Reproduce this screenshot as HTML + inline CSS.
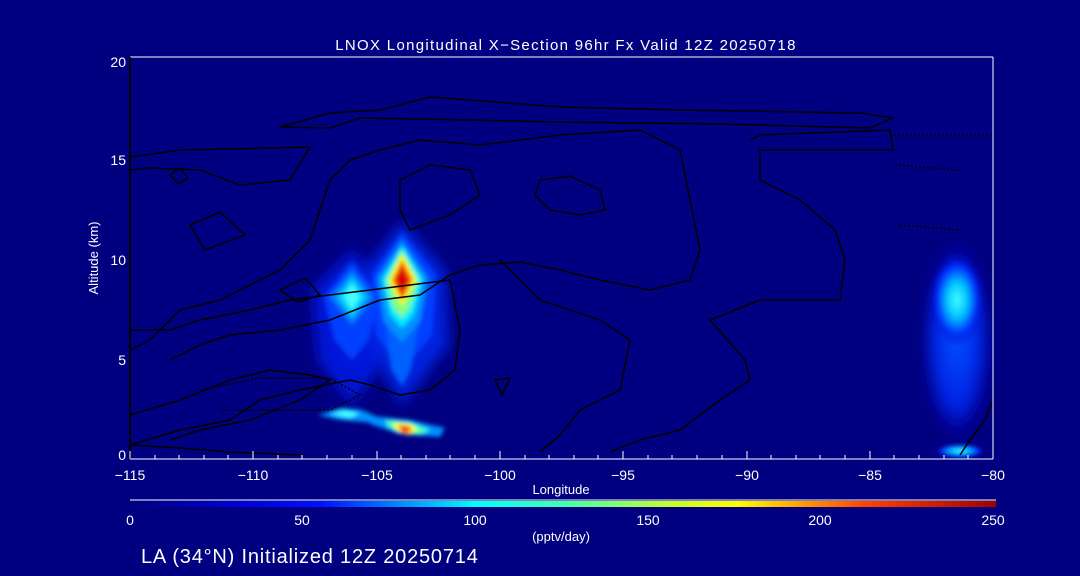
<!DOCTYPE html>
<html><head><style>
body{margin:0;background:#000080;}
svg{display:block;font-family:"Liberation Sans","DejaVu Sans",sans-serif;}
</style></head><body>
<svg width="1080" height="576" viewBox="0 0 1080 576">
<defs>
<filter id="b" x="-50%" y="-50%" width="200%" height="200%"><feGaussianBlur stdDeviation="6"/></filter>
<filter id="s" x="-50%" y="-50%" width="200%" height="200%"><feGaussianBlur stdDeviation="2"/></filter>
<linearGradient id="cb" x1="0" x2="1">
<stop offset="0" stop-color="#000080"/><stop offset="0.12" stop-color="#0000d0"/><stop offset="0.22" stop-color="#0010ff"/><stop offset="0.4" stop-color="#00ffff"/><stop offset="0.5" stop-color="#40ffb0"/><stop offset="0.62" stop-color="#c0ff30"/><stop offset="0.7" stop-color="#ffff00"/><stop offset="0.85" stop-color="#ff4000"/><stop offset="1" stop-color="#a00000"/>
</linearGradient>
<radialGradient id="hot"><stop offset="0" stop-color="#d00000"/><stop offset="0.2" stop-color="#ff5000"/><stop offset="0.35" stop-color="#ffff00"/><stop offset="0.55" stop-color="#00ffff"/><stop offset="0.8" stop-color="#0040ff"/><stop offset="1" stop-color="#0000c0" stop-opacity="0"/></radialGradient>
<radialGradient id="cy"><stop offset="0" stop-color="#40ffff"/><stop offset="0.4" stop-color="#00c0ff"/><stop offset="0.75" stop-color="#0030ff"/><stop offset="1" stop-color="#0000c0" stop-opacity="0"/></radialGradient>
<radialGradient id="bl"><stop offset="0" stop-color="#0050ff"/><stop offset="0.7" stop-color="#0020e0"/><stop offset="1" stop-color="#0000c0" stop-opacity="0"/></radialGradient>
</defs>
<!-- left blob -->
<g filter="url(#s)">
<polygon points="352,250 390,290 385,360 352,405 318,360 312,290" fill="#0018d8" filter="url(#b)"/>
<polygon points="402,222 445,270 448,345 402,405 368,345 364,270" fill="#0020e0" filter="url(#b)"/>
<polygon points="352,262 380,297 368,340 352,360 335,340 324,297" fill="#0040ff"/>
<polygon points="352,270 374,297 352,325 330,297" fill="#0080ff"/>
<polygon points="352,277 367,297 352,318 337,297" fill="#00d0ff"/>
<polygon points="352,284 360,297 352,310 344,297" fill="#40ffff"/>
<polygon points="402,232 436,275 432,335 402,370 376,335 372,275" fill="#0040ff"/>
<polygon points="402,300 418,330 410,370 402,385 392,370 386,330" fill="#0060ff"/>
<polygon points="402,240 428,278 420,322 402,342 384,322 377,278" fill="#0090ff"/>
<polygon points="402,246 423,279 414,315 402,328 390,315 382,279" fill="#00e8ff"/>
<polygon points="402,250 419,280 410,308 402,318 393,308 386,280" fill="#80ff80"/>
<polygon points="402,254 416,280 402,306 389,280" fill="#ffff00"/>
<polygon points="402,259 413,280 402,301 392,280" fill="#ff7000"/>
<polygon points="402,266 409,280 402,294 395,280" fill="#d80000"/>
<!-- bottom streaks -->
<polygon points="318,415 340,408 362,410 380,418 375,423 340,420" fill="#0090ff"/>
<polygon points="330,414 345,410 360,413 350,418" fill="#40ffff"/>
<polygon points="372,416 410,420 445,428 440,437 400,434 370,424" fill="#0090ff"/>
<polygon points="385,420 410,422 430,430 420,435 400,433 388,427" fill="#40ffc0"/>
<polygon points="393,423 410,424 418,430 408,435 396,430" fill="#ffff00"/>
<polygon points="398,425 409,426 412,431 403,434" fill="#ff3000"/>
</g>
<ellipse cx="957" cy="340" rx="35" ry="100" fill="url(#bl)" filter="url(#b)"/>
<ellipse cx="957" cy="300" rx="26" ry="45" fill="url(#cy)" filter="url(#s)"/>
<ellipse cx="960" cy="451" rx="25" ry="7" fill="url(#cy)" filter="url(#s)"/>
<!-- contours -->
<g fill="none" stroke="#000" stroke-width="1.5">
<path d="M280,127 L330,113 L380,110 L430,97 L470,100 L560,107 L680,110 L860,113 L893,118 L870,128 L720,124 L560,122 L470,120 L360,118 L330,128 Z"/>
<path d="M130,157 L180,150 L270,148 L310,147 L290,180 L240,185 L200,170 L150,168 L130,170"/>
<path d="M130,350 L150,340 L180,310 L220,300 L280,270 L310,240 L330,180 L350,160 L380,150 L420,140 L480,145 L560,135 L640,130 L680,150 L690,200 L700,250 L690,280 L650,290 L600,280 L560,270 L520,262 L480,265 L450,275 L420,295 L380,300 L330,320 L280,330 L230,335 L200,345 L170,360"/>
<path d="M130,330 L170,330 L200,320 L250,310 L290,300 L330,295 L370,290 L410,285 L450,280 L460,330 L455,370 L430,390 L400,395 L370,385 L350,380 L300,390 L260,400 L230,420 L180,430 L130,445"/>
<path d="M400,180 L430,165 L470,170 L480,195 L450,215 L410,230 L400,210 Z"/>
<path d="M540,180 L570,176 L600,190 L605,210 L580,215 L550,210 L535,195 Z"/>
<path d="M190,225 L220,212 L245,235 L205,250 Z"/>
<path d="M280,290 L305,278 L320,295 L298,302 Z"/>
<path d="M170,175 L180,168 L188,178 L178,184 Z"/>
<path d="M750,140 L760,135 L890,130 L893,150 L870,150 L760,150 L760,180 L800,200 L835,230 L845,260 L840,300 L800,300 L760,300 L710,320 L745,360 L750,380 L720,400 L680,430 L640,440 L610,452"/>
<path d="M500,260 L540,300 L600,320 L630,340 L620,390 L580,410 L560,435 L540,452"/>
<path d="M495,380 L510,378 L502,395 Z"/>
<path d="M130,415 L180,400 L230,380 L270,370 L310,375 L330,380 L300,400 L250,420 L200,430 L170,440"/>
<path d="M130,445 L180,448 L230,452 L300,455"/>
<path d="M993,400 L985,420 L970,440 L960,455"/>
</g>
<g fill="none" stroke="#000" stroke-width="1.5" stroke-dasharray="2,2">
<path d="M200,390 L260,378 L330,378 L360,395 L330,410 L280,410 L220,410"/>
<path d="M890,135 L993,135"/><path d="M895,165 L960,170"/><path d="M900,225 L960,230"/>
</g>
<!-- axes -->
<line x1="130" y1="57" x2="993" y2="57" stroke="#fff"/>
<line x1="993" y1="57" x2="993" y2="459" stroke="#fff"/>
<line x1="130" y1="459" x2="993" y2="459" stroke="#fff"/>
<line x1="130" y1="57" x2="130" y2="459" stroke="#000" stroke-width="2"/>
<g stroke="#fff">
<path d="M130,459v-8M253,459v-8M377,459v-8M500,459v-8M623,459v-8M747,459v-8M870,459v-8M993,459v-8"/>
<path d="M155,459v-4M179,459v-4M204,459v-4M228,459v-4M278,459v-4M302,459v-4M327,459v-4M352,459v-4M401,459v-4M426,459v-4M450,459v-4M475,459v-4M525,459v-4M549,459v-4M574,459v-4M598,459v-4M648,459v-4M672,459v-4M697,459v-4M722,459v-4M771,459v-4M796,459v-4M820,459v-4M845,459v-4M894,459v-4M919,459v-4M944,459v-4M968,459v-4"/>
</g>
<g fill="#fff" font-size="14">
<text x="566" y="50" text-anchor="middle" font-size="15" letter-spacing="1.3">LNOX Longitudinal X−Section 96hr  Fx Valid 12Z 20250718</text>
<g text-anchor="end"><text x="126" y="67">20</text><text x="126" y="165">15</text><text x="126" y="265">10</text><text x="126" y="365">5</text><text x="126" y="460">0</text></g>
<g text-anchor="middle"><text x="130" y="480">−115</text><text x="253" y="480">−110</text><text x="377" y="480">−105</text><text x="500" y="480">−100</text><text x="623" y="480">−95</text><text x="747" y="480">−90</text><text x="870" y="480">−85</text><text x="993" y="480">−80</text>
<text x="561" y="494" font-size="13">Longitude</text>
<text x="130" y="525">0</text><text x="302" y="525">50</text><text x="475" y="525">100</text><text x="648" y="525">150</text><text x="820" y="525">200</text><text x="993" y="525">250</text>
<text x="561" y="541" font-size="13">(pptv/day)</text></g>
<text transform="translate(98,258) rotate(-90)" text-anchor="middle" font-size="13">Altitude (km)</text>
<text x="141" y="563" font-size="20" letter-spacing="0.8">LA (34°N) Initialized 12Z 20250714</text>
</g>
<line x1="130" y1="500" x2="996" y2="500" stroke="#fff"/>
<rect x="130" y="501" width="866" height="6" fill="url(#cb)"/>
</svg>
</body></html>
